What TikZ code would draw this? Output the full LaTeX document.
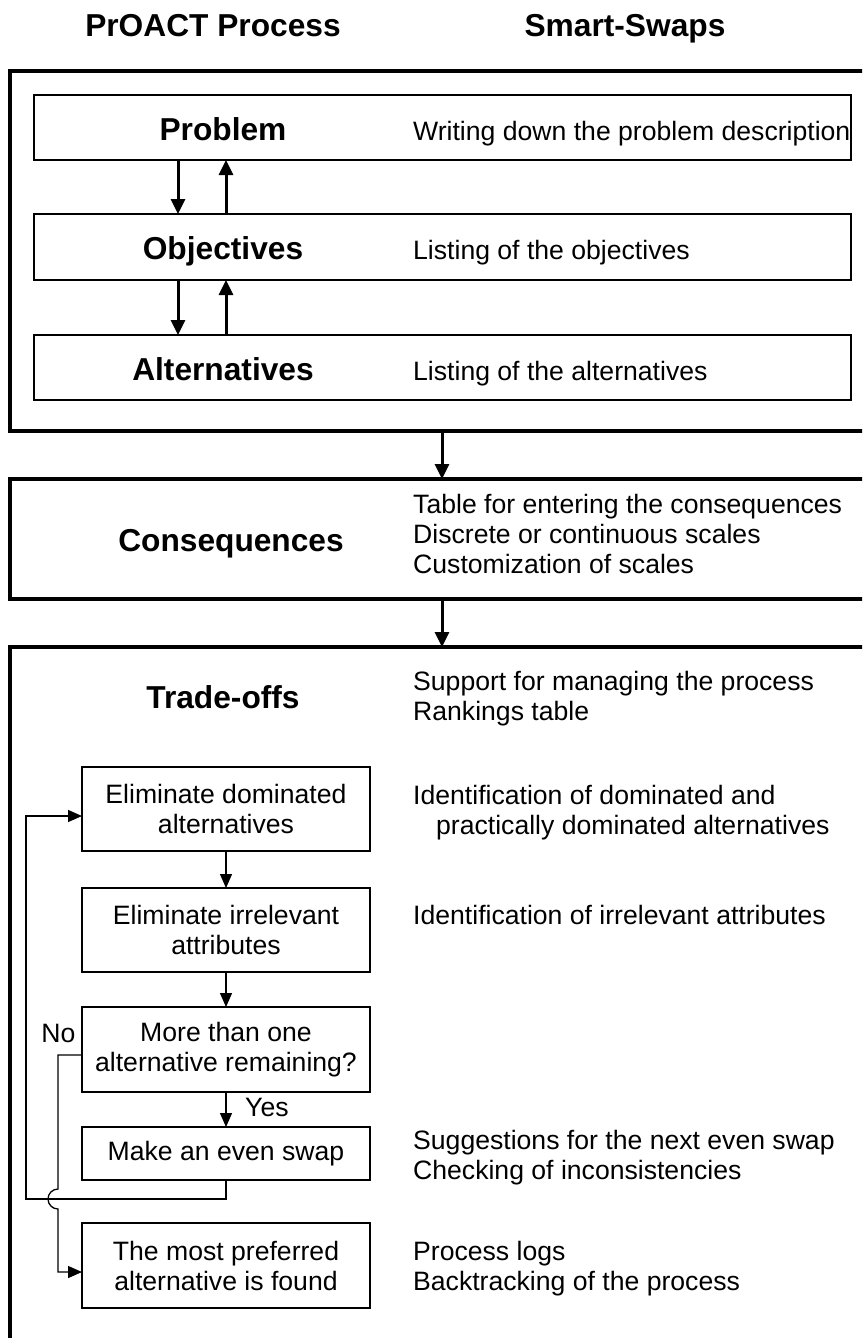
\documentclass[tikz,border=0pt]{standalone}
\usepackage{fontspec}
\setmainfont{Liberation Sans}
\usetikzlibrary{arrows.meta}
\newcommand\rlines[1]{\begin{tabular}[t]{@{}l@{}}#1\end{tabular}}
\newcommand\regfont{\fontsize{26.6}{30}\selectfont}
\newcommand\headfont{\fontsize{31.7}{36}\selectfont\bfseries}
\begin{document}
\begin{tikzpicture}[x=1pt,y=-1pt,
  outerbox/.style={draw,line width=3.3pt,inner sep=0pt,outer sep=0pt,minimum width=870pt},
  phasebox/.style={draw,line width=1.5pt,minimum width=817pt,minimum height=65pt,inner sep=0pt,outer sep=0pt},
  stepbox/.style={draw,line width=1.4pt,minimum width=288pt,minimum height=84pt,inner sep=0pt,outer sep=0pt,align=center,font=\regfont},
  headtext/.style={anchor=base,inner sep=0pt,font=\headfont},
  desc/.style={anchor=base west,inner sep=0pt,font=\regfont},
  small/.style={inner sep=0pt,font=\regfont},
  bigarrow/.style={line width=3pt,-{Triangle[length=15pt,width=14pt]}},
  flowarrow/.style={line width=1.3pt,-{Triangle[length=14pt,width=12pt]}},
  flowline/.style={line width=1.3pt}]
\useasboundingbox (0,0) rectangle (862,1338);
\clip (0,0) rectangle (862,1338);
\fill[white] (0,0) rectangle (862,1338);

% column headers
\node[headtext] (hleft) at (213,37) {PrOACT Process};
\node[headtext] (hright) at (625,37) {Smart-Swaps};

% helper x positions
\coordinate (dx) at (178,0);
\coordinate (ux) at (226,0);
\coordinate (mx) at (442,0);

% phase 1
\node[outerbox,minimum height=360pt] (ph1) at (445,251) {};
\node[phasebox] (prob) at (442.5,127.5) {};
\node[phasebox,minimum height=66pt] (obj) at (442.5,247) {};
\node[phasebox] (alt) at (442.5,367.5) {};
\node[headtext] (probl) at (223,140) {Problem};
\node[headtext] (objl) at (223,259.5) {Objectives};
\node[headtext] (altl) at (223,380) {Alternatives};
\node[desc] (probd) at (413,140) {Writing down the problem description};
\node[desc] (objd) at (413,259.5) {Listing of the objectives};
\node[desc] (altd) at (413,380) {Listing of the alternatives};
\draw[bigarrow] (prob.south -| dx) -- (obj.north -| dx);
\draw[bigarrow] (obj.north -| ux) -- (prob.south -| ux);
\draw[bigarrow] (obj.south -| dx) -- (alt.north -| dx);
\draw[bigarrow] (alt.north -| ux) -- (obj.south -| ux);

% phase 2
\node[outerbox,minimum height=120pt] (ph2) at (445,539) {};
\node[headtext] (consl) at (231,551.5) {Consequences};
\node[desc] (consd) at (413,513) {\rlines{Table for entering the consequences\\Discrete or continuous scales\\Customization of scales}};
\draw[bigarrow] (ph1.south -| mx) -- (ph2.north -| mx);

% phase 3
\node[outerbox,minimum height=753pt] (ph3) at (445,1023.5) {};
\node[headtext] (tradel) at (223,708) {Trade-offs};
\node[desc] (traded) at (413,690) {\rlines{Support for managing the process\\Rankings table}};
\draw[bigarrow] (ph2.south -| mx) -- (ph3.north -| mx);

% trade-off steps
\node[stepbox] (dom) at (226,809) {Eliminate dominated\\alternatives};
\node[stepbox] (irr) at (226,930) {Eliminate irrelevant\\attributes};
\node[stepbox,minimum height=85pt] (more) at (226,1049.5) {More than one\\alternative remaining?};
\node[stepbox,minimum height=53pt] (swap) at (226,1153.5) {Make an even swap};
\node[stepbox,minimum height=85pt] (most) at (226,1265.5) {The most preferred\\alternative is found};

\node[desc] (domd) at (413,804) {\rlines{Identification of dominated and\\\hspace*{23pt}practically dominated alternatives}};
\node[desc] (irrd) at (413,924) {Identification of irrelevant attributes};
\node[desc] (swapd) at (413,1149) {\rlines{Suggestions for the next even swap\\Checking of inconsistencies}};
\node[desc] (mostd) at (413,1260) {\rlines{Process logs\\Backtracking of the process}};

\draw[flowarrow] (dom) -- (irr);
\draw[flowarrow] (irr) -- (more);
\draw[flowarrow] (more) -- (swap);
\node[small,anchor=base west] (yes) at (245,1116) {Yes};
\node[small,anchor=base] (no) at (58.5,1042) {No};

% loop back from swap
\coordinate (loopL) at (26,1199);
\draw[flowarrow] (swap.south) |- (loopL) |- ([yshift=-7pt]dom.west);

% "No" branch with hop over the loop line
\coordinate (hopTop) at (58,1189);
\draw[flowarrow] ([yshift=-5.5pt]more.west) -| (hopTop)
  arc[start angle=90,end angle=270,radius=10pt] |- ([yshift=-6.5pt]most.west);
\end{tikzpicture}
\end{document}
